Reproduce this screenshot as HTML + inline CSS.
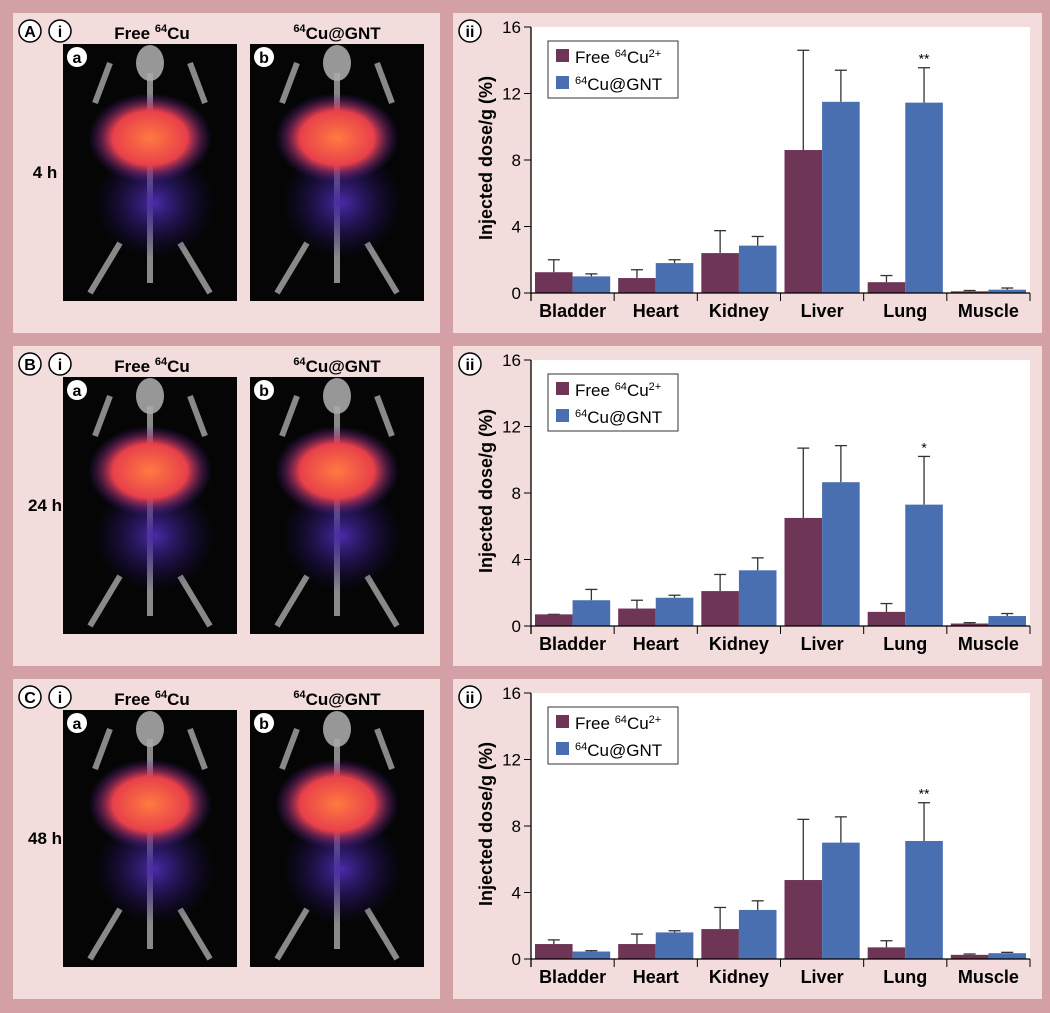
<!DOCTYPE html>
<html><head><meta charset="utf-8"><style>
body{margin:0;background:#d3a0a5;}
svg{display:block;font-family:"Liberation Sans",Arial,sans-serif;}
</style></head><body>
<svg id="s" width="1050" height="1013" viewBox="0 0 1050 1013">
<defs>
<radialGradient id="org" cx="50%" cy="50%" r="50%"><stop offset="0" stop-color="#ff7a40"/><stop offset="0.6" stop-color="#e8404a"/><stop offset="1" stop-color="#5020a0" stop-opacity="0"/></radialGradient>
<radialGradient id="pur" cx="50%" cy="50%" r="50%"><stop offset="0" stop-color="#4a2aa8"/><stop offset="1" stop-color="#201060" stop-opacity="0"/></radialGradient>
</defs>
</svg>
<script>
const categories=["Bladder","Heart","Kidney","Liver","Lung","Muscle"];
const rowLabels=["A","B","C"];
const timeLabels=["4 h","24 h","48 h"];
const yTicks=[0,4,8,12,16];
const freeA=[1.25,0.9,2.4,8.6,0.65,0.1], freeAErr=[2.0,1.4,3.75,14.6,1.05,0.15];
const gntA=[1.0,1.8,2.85,11.5,11.45,0.2], gntAErr=[1.15,2.0,3.4,13.4,13.55,0.3];
const freeB=[0.7,1.05,2.1,6.5,0.85,0.15], freeBErr=[0.7,1.55,3.1,10.7,1.35,0.2];
const gntB=[1.55,1.7,3.35,8.65,7.3,0.6], gntBErr=[2.2,1.85,4.1,10.85,10.2,0.75];
const freeC=[0.9,0.9,1.8,4.75,0.7,0.25], freeCErr=[1.15,1.5,3.1,8.4,1.1,0.3];
const gntC=[0.45,1.6,2.95,7.0,7.1,0.35], gntCErr=[0.5,1.7,3.5,8.55,9.4,0.4];
const stars=["**","*","**"];
const rows=[[freeA,freeAErr,gntA,gntAErr],[freeB,freeBErr,gntB,gntBErr],[freeC,freeCErr,gntC,gntCErr]];
const tops=[13,346,679];
const s=document.getElementById('s');
const NS='http://www.w3.org/2000/svg';
function E(t,a,p,txt){const e=document.createElementNS(NS,t);for(const k in a)e.setAttribute(k,a[k]);if(txt!==undefined)e.textContent=txt;(p||s).appendChild(e);return e;}
const X0=531,X1=1030,cw=(X1-X0)/6;
rows.forEach((r,ri)=>{
 const T=tops[ri];
 const g=E('g',{});
 
 
 const lp=E('rect',{x:13,y:T,width:427,height:320,fill:'#f2dcdc'},g);
 
 const rp=E('rect',{x:453,y:T,width:589,height:320,fill:'#f2dcdc'},g);
 
 [[30,rowLabels[ri]],[60,'i'],[470,'ii']].forEach(([cx,t])=>{
  E('circle',{cx:cx,cy:T+18,r:11,fill:'#fff',stroke:'#000','stroke-width':1.5},g);
  const tt=E('text',{x:cx,y:T+24,'text-anchor':'middle','font-size':16,'font-weight':'bold'},g,t);
  
 });
 const t1=E('text',{x:152,y:T+26,'text-anchor':'middle','font-size':17,'font-weight':'bold'},g);
 t1.innerHTML='Free <tspan font-size="11" dy="-7">64</tspan><tspan dy="7">Cu</tspan>';
 
 const t2=E('text',{x:337,y:T+26,'text-anchor':'middle','font-size':17,'font-weight':'bold'},g);
 t2.innerHTML='<tspan font-size="11" dy="-7">64</tspan><tspan dy="7">Cu@GNT</tspan>';
 
 const tl=E('text',{x:45,y:T+165,'text-anchor':'middle','font-size':17,'font-weight':'bold'},g,timeLabels[ri]);
 
 [[63,'a'],[250,'b']].forEach(([ix,lab],k)=>{
  const im=E('g',{},g);
  
  E('rect',{x:ix,y:T+31,width:174,height:257,fill:'#050505'},im);
  const cx=ix+87;
  E('ellipse',{cx:cx,cy:T+50,rx:14,ry:18,fill:'#bbb',opacity:0.8},im);
  E('path',{d:`M${cx-40} ${T+50} L${cx-55} ${T+90} M${cx+40} ${T+50} L${cx+55} ${T+90} M${cx} ${T+60} L${cx} ${T+270} M${cx-30} ${T+230} L${cx-60} ${T+280} M${cx+30} ${T+230} L${cx+60} ${T+280}`,stroke:'#aaa','stroke-width':6,fill:'none',opacity:0.8},im);
  E('ellipse',{cx:cx+5,cy:T+190,rx:60,ry:55,fill:'url(#pur)'},im);
  E('ellipse',{cx:cx,cy:T+125,rx:62,ry:45,fill:'url(#org)'},im);
  E('circle',{cx:ix+14,cy:T+44,r:10,fill:'#fff'},im);
  E('text',{x:ix+14,y:T+50,'text-anchor':'middle','font-size':16,'font-weight':'bold'},im,lab);
 });
 const yT=T+14,yB=T+280;
 const Y=v=>yB-(v/16)*(yB-yT);
 const pa=E('rect',{x:X0,y:yT,width:X1-X0,height:yB-yT,fill:'#fff'},g);
 
 const [f,fe,gn,ge]=r;
 const bw=(cw-8)/2;
 categories.forEach((c,i)=>{
  const bx=X0+i*cw+4;
  [[f,fe,'#6e3556',0],[gn,ge,'#4a6fb0',1]].forEach(([v,e,col,k])=>{
   const x=bx+k*bw,cx=x+bw/2;
   E('line',{x1:cx,x2:cx,y1:Y(v[i]),y2:Y(e[i]),stroke:'#333','stroke-width':1.3},g);
   E('line',{x1:cx-6,x2:cx+6,y1:Y(e[i]),y2:Y(e[i]),stroke:'#333','stroke-width':1.3},g);
   const b=E('rect',{x:x,y:Y(v[i]),width:bw,height:yB-Y(v[i]),fill:col},g);
   
   
  });
  const cl=E('text',{x:X0+(i+0.5)*cw,y:yB+24,'text-anchor':'middle','font-size':18,'font-weight':'bold'},g,c);
  
  E('line',{x1:X0+(i+1)*cw,x2:X0+(i+1)*cw,y1:yB,y2:yB+8,stroke:'#000'},g);
 });
 const st=E('text',{x:X0+4*cw+4+bw*1.5,y:Y(ge[4])-4,'text-anchor':'middle','font-size':14},g,stars[ri]);
 
 E('line',{x1:X0,x2:X0,y1:yT,y2:yB+8,stroke:'#000','stroke-width':1.3},g);
 E('line',{x1:X0,x2:X1,y1:yB,y2:yB,stroke:'#000','stroke-width':1.3},g);
 yTicks.forEach(v=>{
  E('line',{x1:X0-7,x2:X0,y1:Y(v),y2:Y(v),stroke:'#000'},g);
  const yl=E('text',{x:X0-10,y:Y(v)+6,'text-anchor':'end','font-size':17},g,v);
  
 });
 const yt=E('text',{x:0,y:0,transform:`translate(492 ${(yT+yB)/2-2}) rotate(-90)`,'text-anchor':'middle','font-size':18,'font-weight':'bold'},g,'Injected dose/g (%)');
 
 const lg=E('g',{},g);
 
 E('rect',{x:548,y:T+28,width:130,height:57,fill:'#fff',stroke:'#333'},lg);
 E('rect',{x:556,y:T+36,width:13,height:13,fill:'#6e3556'},lg);
 E('rect',{x:556,y:T+63,width:13,height:13,fill:'#4a6fb0'},lg);
 const l1=E('text',{x:575,y:T+50,'font-size':17},lg);
 l1.innerHTML='Free <tspan font-size="11" dy="-6">64</tspan><tspan dy="6">Cu</tspan><tspan font-size="11" dy="-6">2+</tspan>';
 const l2=E('text',{x:575,y:T+77,'font-size':17},lg);
 l2.innerHTML='<tspan font-size="11" dy="-6">64</tspan><tspan dy="6">Cu@GNT</tspan>';
});
</script>
</body></html>
